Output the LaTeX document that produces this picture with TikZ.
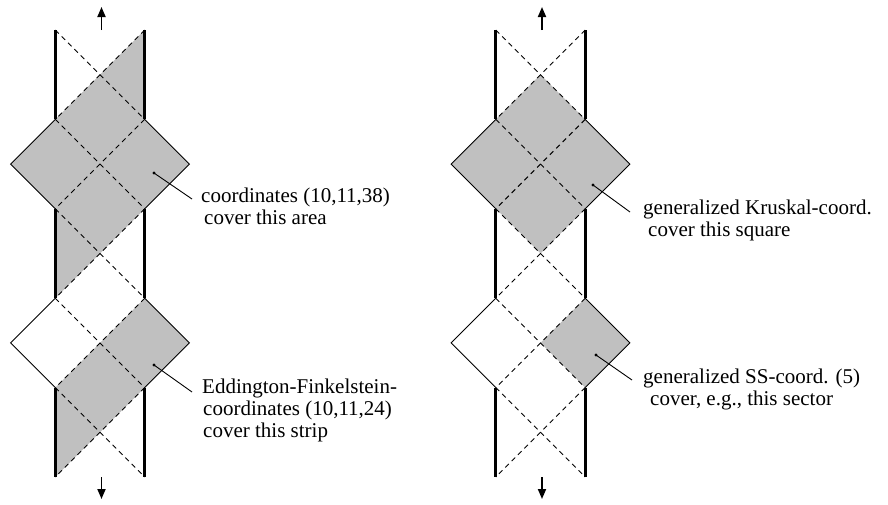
\documentclass[tikz,border=0pt]{standalone}
\usepackage{fontspec}
\setmainfont{Liberation Serif}
\usetikzlibrary{arrows.meta}
\definecolor{fillgray}{RGB}{192,192,192}
\begin{document}
\begin{tikzpicture}[x=1pt,y=-1pt,
  thickwall/.style={line width=3.3pt},
  edge/.style={line width=0.9pt},
  null/.style={line width=0.9pt, dash pattern=on 5pt off 4pt},
  region/.style={fill=fillgray, draw=none},
  leader/.style={line width=0.9pt},
  label/.style={font=\fontsize{21}{22}\selectfont, anchor=base west, inner sep=0pt},
  timearrow/.style={line width=1.8pt, -{Triangle[width=8pt,length=10pt]}},
]
\useasboundingbox (0,0) rectangle (888,504);
% lattice points of both diagrams
\foreach \cx/\d in {100/a, 540.5/b} {
  \foreach \k in {0,...,10} {
    \coordinate (\d L\k) at (\cx-44.7, 30+44.7*\k);
    \coordinate (\d R\k) at (\cx+44.7, 30+44.7*\k);
    \coordinate (\d C\k) at (\cx, 30+44.7*\k);
    \coordinate (\d W\k) at (\cx-89.4, 30+44.7*\k);
    \coordinate (\d E\k) at (\cx+89.4, 30+44.7*\k);
  }
  \coordinate (\d up0) at (\cx+1.5, 30);
  \coordinate (\d up1) at (\cx+1.5, 7);
  \coordinate (\d dn0) at (\cx+1.5, 477);
  \coordinate (\d dn1) at (\cx+1.5, 499);
}
% shaded regions
\fill[region] (aR0) -- (aL2) -- (aW3) -- (aL4) -- (aL6) -- (aR4) -- (aE3) -- (aR2) -- cycle;
\fill[region] (aR6) -- (aL8) -- (aL10) -- (aR8) -- (aE7) -- cycle;
\fill[region] (bC1) -- (bW3) -- (bC5) -- (bE3) -- cycle;
\fill[region] (bR6) -- (bE7) -- (bR8) -- (bC7) -- cycle;
% lines
\foreach \d in {a,b} {
  \draw[thickwall] (\d L0) -- (\d L2) (\d L4) -- (\d L6) (\d L8) -- (\d L10);
  \draw[thickwall] (\d R0) -- (\d R2) (\d R4) -- (\d R6) (\d R8) -- (\d R10);
  \draw[edge] (\d L2) -- (\d W3) -- (\d L4) (\d R2) -- (\d E3) -- (\d R4);
  \draw[edge] (\d L6) -- (\d W7) -- (\d L8) (\d R6) -- (\d E7) -- (\d R8);
  \foreach \k/\n in {0/2,2/4,4/6,6/8,8/10} {
    \draw[null] (\d L\k) -- (\d R\n);
    \draw[null] (\d R\k) -- (\d L\n);
  }
  \draw[timearrow] (\d up0) -- (\d up1);
  \draw[timearrow] (\d dn0) -- (\d dn1);
}
% leaders
\coordinate (p1) at (154,173); \coordinate (q1) at (192,199);
\coordinate (p2) at (154,365); \coordinate (q2) at (192,392);
\coordinate (p3) at (593,185); \coordinate (q3) at (630,212);
\coordinate (p4) at (596,355); \coordinate (q4) at (632,380);
\foreach \i in {1,2,3,4} {
  \fill (p\i) circle (1.6pt);
  \draw[leader] (p\i) -- (q\i);
}
% labels
\node[label] (t1a) at (201,202) {coordinates (10,11,38)};
\node[label] (t1b) at (204,224) {cover this area};
\node[label] (t2a) at (202,393) {Eddington-Finkelstein-};
\node[label] (t2b) at (203,415) {coordinates (10,11,24)};
\node[label] (t2c) at (203,437) {cover this strip};
\node[label] (t3a) at (643,214) {generalized Kruskal-coord.};
\node[label] (t3b) at (648,236) {cover this square};
\node[label] (t4a) at (643,383) {generalized SS-coord. (5)};
\node[label] (t4b) at (650,405) {cover, e.g., this sector};
\end{tikzpicture}
\end{document}
